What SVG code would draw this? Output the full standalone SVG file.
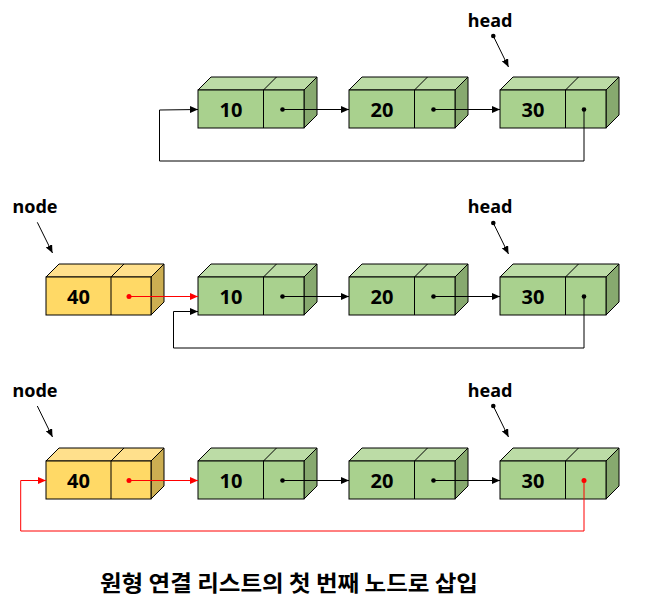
<svg xmlns="http://www.w3.org/2000/svg" width="652" height="607" viewBox="0 0 652 607">
<style>
.bg{fill:#ffffff}
.gf{fill:#A9D18E;stroke:#000;stroke-width:1}
.gt{fill:#BCDCA6;stroke:#000;stroke-width:1}
.gs{fill:#87A96F;stroke:#000;stroke-width:1}
.yf{fill:#FFD966;stroke:#000;stroke-width:1}
.yt{fill:#FFE08C;stroke:#000;stroke-width:1}
.ys{fill:#CCAE52;stroke:#000;stroke-width:1}
.ln{stroke:#000;stroke-width:1;fill:none}
.val{font-family:"Noto Sans","Liberation Sans",sans-serif;font-weight:bold;font-size:20px;fill:#000;text-anchor:middle;dominant-baseline:central}
.lbl{font-family:"Noto Sans","Liberation Sans",sans-serif;font-weight:bold;font-size:18px;fill:#000;text-anchor:middle}
.title{font-family:"Noto Sans CJK KR","Noto Sans",sans-serif;font-weight:bold;font-size:22px;fill:#000;text-anchor:middle}
.c{stroke:#000;stroke-width:1;fill:none}
.cr{stroke:#FF0000;stroke-width:1;fill:none}
</style>
<defs>
<marker id="ab" markerUnits="userSpaceOnUse" markerWidth="9" markerHeight="8" refX="8" refY="3.5" orient="auto">
<path d="M0,0 L8,3.5 L0,7 z" fill="#000"/>
</marker>
<marker id="ar" markerUnits="userSpaceOnUse" markerWidth="9" markerHeight="8" refX="8" refY="3.5" orient="auto">
<path d="M0,0 L8,3.5 L0,7 z" fill="#FF0000"/>
</marker>
</defs>
<rect class="bg" x="0" y="0" width="652" height="607"/>

<!-- Row 1 -->
<g id="r1n10">
<polygon class="gt" points="198,90 211,77 317,77 304,90"/>
<line class="ln" x1="263.5" y1="90" x2="276.5" y2="77"/>
<polygon class="gs" points="304,90 317,77 317,115 304,128"/>
<rect class="gf" x="198" y="90" width="106" height="38"/>
<line class="ln" x1="263.5" y1="90" x2="263.5" y2="128"/>
<text class="val" x="231" y="109">10</text>
<circle cx="282.5" cy="109.5" r="2.3" fill="#000"/>
</g>
<g id="r1n20">
<polygon class="gt" points="349,90 362,77 468,77 455,90"/>
<line class="ln" x1="414.5" y1="90" x2="427.5" y2="77"/>
<polygon class="gs" points="455,90 468,77 468,115 455,128"/>
<rect class="gf" x="349" y="90" width="106" height="38"/>
<line class="ln" x1="414.5" y1="90" x2="414.5" y2="128"/>
<text class="val" x="382" y="109">20</text>
<circle cx="433.5" cy="109.5" r="2.3" fill="#000"/>
</g>
<g id="r1n30">
<polygon class="gt" points="500,90 513,77 619,77 606,90"/>
<line class="ln" x1="565.5" y1="90" x2="578.5" y2="77"/>
<polygon class="gs" points="606,90 619,77 619,115 606,128"/>
<rect class="gf" x="500" y="90" width="106" height="38"/>
<line class="ln" x1="565.5" y1="90" x2="565.5" y2="128"/>
<text class="val" x="533" y="109">30</text>
<circle cx="584" cy="109.5" r="2.3" fill="#000"/>
</g>
<g id="r1head">
<text class="lbl" x="490" y="27">head</text>
</g>

<!-- Row 2 -->
<g id="r2n40">
<polygon class="yt" points="46,277 59,264 164,264 151,277"/>
<line class="ln" x1="111" y1="277" x2="124" y2="264"/>
<polygon class="ys" points="151,277 164,264 164,302 151,315"/>
<rect class="yf" x="46" y="277" width="105" height="38"/>
<line class="ln" x1="111" y1="277" x2="111" y2="315"/>
<text class="val" x="78.5" y="296">40</text>
<circle cx="129" cy="296.5" r="2.5" fill="#FF0000"/>
</g>
<g id="r2n10">
<polygon class="gt" points="198,277 211,264 317,264 304,277"/>
<line class="ln" x1="263.5" y1="277" x2="276.5" y2="264"/>
<polygon class="gs" points="304,277 317,264 317,302 304,315"/>
<rect class="gf" x="198" y="277" width="106" height="38"/>
<line class="ln" x1="263.5" y1="277" x2="263.5" y2="315"/>
<text class="val" x="231" y="296">10</text>
<circle cx="282.5" cy="296.5" r="2.3" fill="#000"/>
</g>
<g id="r2n20">
<polygon class="gt" points="349,277 362,264 468,264 455,277"/>
<line class="ln" x1="414.5" y1="277" x2="427.5" y2="264"/>
<polygon class="gs" points="455,277 468,264 468,302 455,315"/>
<rect class="gf" x="349" y="277" width="106" height="38"/>
<line class="ln" x1="414.5" y1="277" x2="414.5" y2="315"/>
<text class="val" x="382" y="296">20</text>
<circle cx="433.5" cy="296.5" r="2.3" fill="#000"/>
</g>
<g id="r2n30">
<polygon class="gt" points="500,277 513,264 619,264 606,277"/>
<line class="ln" x1="565.5" y1="277" x2="578.5" y2="264"/>
<polygon class="gs" points="606,277 619,264 619,302 606,315"/>
<rect class="gf" x="500" y="277" width="106" height="38"/>
<line class="ln" x1="565.5" y1="277" x2="565.5" y2="315"/>
<text class="val" x="533" y="296">30</text>
<circle cx="584" cy="296.5" r="2.3" fill="#000"/>
</g>
<g id="r2node"><text class="lbl" x="35" y="213">node</text></g>
<g id="r2head"><text class="lbl" x="490" y="213">head</text></g>

<!-- Row 3 -->
<g id="r3n40">
<polygon class="yt" points="46,461 59,448 164,448 151,461"/>
<line class="ln" x1="111" y1="461" x2="124" y2="448"/>
<polygon class="ys" points="151,461 164,448 164,486 151,499"/>
<rect class="yf" x="46" y="461" width="105" height="38"/>
<line class="ln" x1="111" y1="461" x2="111" y2="499"/>
<text class="val" x="78.5" y="480">40</text>
<circle cx="129" cy="480.5" r="2.5" fill="#FF0000"/>
</g>
<g id="r3n10">
<polygon class="gt" points="198,461 211,448 317,448 304,461"/>
<line class="ln" x1="263.5" y1="461" x2="276.5" y2="448"/>
<polygon class="gs" points="304,461 317,448 317,486 304,499"/>
<rect class="gf" x="198" y="461" width="106" height="38"/>
<line class="ln" x1="263.5" y1="461" x2="263.5" y2="499"/>
<text class="val" x="231" y="480">10</text>
<circle cx="282.5" cy="480.5" r="2.3" fill="#000"/>
</g>
<g id="r3n20">
<polygon class="gt" points="349,461 362,448 468,448 455,461"/>
<line class="ln" x1="414.5" y1="461" x2="427.5" y2="448"/>
<polygon class="gs" points="455,461 468,448 468,486 455,499"/>
<rect class="gf" x="349" y="461" width="106" height="38"/>
<line class="ln" x1="414.5" y1="461" x2="414.5" y2="499"/>
<text class="val" x="382" y="480">20</text>
<circle cx="433.5" cy="480.5" r="2.3" fill="#000"/>
</g>
<g id="r3n30">
<polygon class="gt" points="500,461 513,448 619,448 606,461"/>
<line class="ln" x1="565.5" y1="461" x2="578.5" y2="448"/>
<polygon class="gs" points="606,461 619,448 619,486 606,499"/>
<rect class="gf" x="500" y="461" width="106" height="38"/>
<line class="ln" x1="565.5" y1="461" x2="565.5" y2="499"/>
<text class="val" x="533" y="480">30</text>
<circle cx="584" cy="480.5" r="2.5" fill="#FF0000"/>
</g>
<g id="r3node"><text class="lbl" x="35" y="397">node</text></g>
<g id="r3head"><text class="lbl" x="490" y="397">head</text></g>

<g id="connectors">
<!-- row 1 -->
<line class="c" x1="282.5" y1="109.5" x2="349" y2="109.5" marker-end="url(#ab)"/>
<line class="c" x1="433.5" y1="109.5" x2="500" y2="109.5" marker-end="url(#ab)"/>
<path class="c" d="M584,109.5 V161 H159.5 V110 L198,109.5" marker-end="url(#ab)"/>
<circle cx="493.3" cy="36" r="2.3" fill="#000"/>
<line class="c" x1="493.3" y1="36" x2="508.5" y2="67" marker-end="url(#ab)"/>
<!-- row 2 -->
<line class="cr" x1="129" y1="296.5" x2="198" y2="296.5" marker-end="url(#ar)"/>
<line class="c" x1="282.5" y1="296.5" x2="349" y2="296.5" marker-end="url(#ab)"/>
<line class="c" x1="433.5" y1="296.5" x2="500" y2="296.5" marker-end="url(#ab)"/>
<path class="c" d="M584,296.5 V348 H173.5 V311.5 H198" marker-end="url(#ab)"/>
<circle cx="493.3" cy="223" r="2.3" fill="#000"/>
<line class="c" x1="493.3" y1="223" x2="508.5" y2="254" marker-end="url(#ab)"/>
<line class="c" x1="37.3" y1="222.3" x2="52.5" y2="253" marker-end="url(#ab)"/>
<!-- row 3 -->
<line class="cr" x1="129" y1="480.5" x2="198" y2="480.5" marker-end="url(#ar)"/>
<line class="c" x1="282.5" y1="480.5" x2="349" y2="480.5" marker-end="url(#ab)"/>
<line class="c" x1="433.5" y1="480.5" x2="500" y2="480.5" marker-end="url(#ab)"/>
<path class="cr" d="M584,480.5 V531 H20.7 V480.5 H46" marker-end="url(#ar)"/>
<circle cx="493.3" cy="406" r="2.3" fill="#000"/>
<line class="c" x1="493.3" y1="406" x2="508.5" y2="437" marker-end="url(#ab)"/>
<line class="c" x1="37.3" y1="406" x2="52.5" y2="437" marker-end="url(#ab)"/>
</g>

<text class="title" x="289" y="591" textLength="378" lengthAdjust="spacingAndGlyphs">원형 연결 리스트의 첫 번째 노드로 삽입</text>
</svg>
